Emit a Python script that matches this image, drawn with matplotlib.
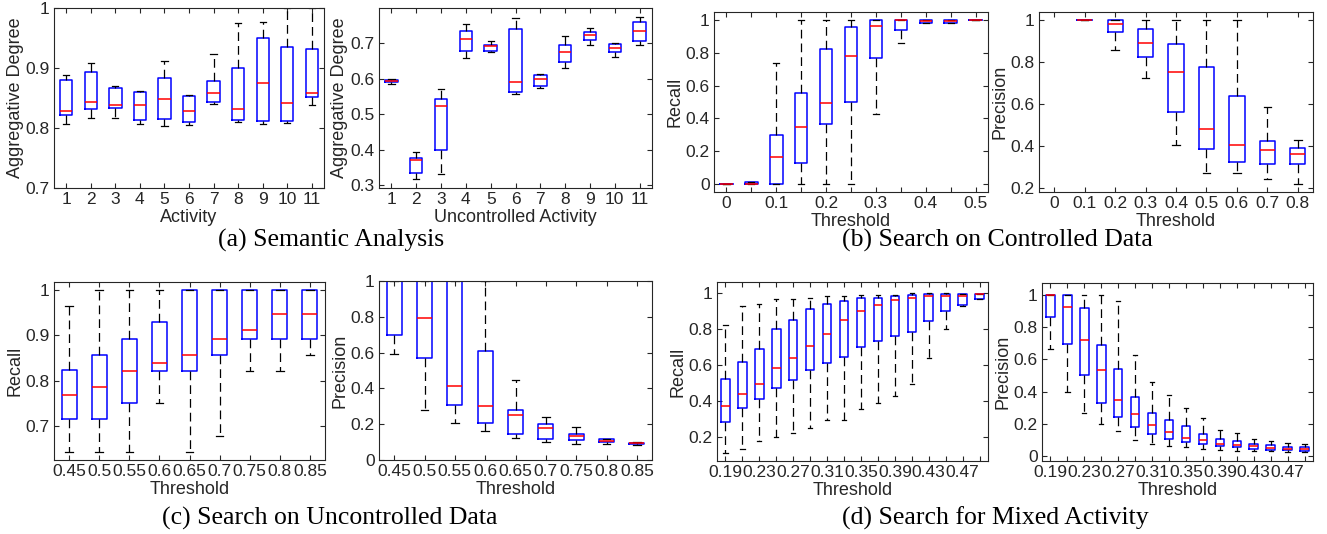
import matplotlib
matplotlib.use('Agg')
import matplotlib.pyplot as plt
from matplotlib.ticker import FuncFormatter

# ---------------- (a) Semantic Analysis ----------------
act_labels = ['1', '2', '3', '4', '5', '6', '7', '8', '9', '10', '11']
sem_lo  = [0.807, 0.816, 0.816, 0.806, 0.803, 0.805, 0.840, 0.810, 0.807, 0.808, 0.838]
sem_q1  = [0.822, 0.831, 0.833, 0.814, 0.815, 0.810, 0.843, 0.813, 0.812, 0.811, 0.852]
sem_med = [0.829, 0.843, 0.839, 0.838, 0.849, 0.829, 0.858, 0.831, 0.875, 0.841, 0.858]
sem_q3  = [0.880, 0.893, 0.866, 0.860, 0.883, 0.854, 0.878, 0.900, 0.950, 0.935, 0.932]
sem_hi  = [0.889, 0.908, 0.870, 0.861, 0.912, 0.855, 0.923, 0.975, 0.977, 1.000, 1.000]

unc_lo  = [0.584, 0.318, 0.332, 0.657, 0.674, 0.557, 0.573, 0.630, 0.693, 0.661, 0.694]
unc_q1  = [0.589, 0.335, 0.399, 0.676, 0.677, 0.561, 0.579, 0.647, 0.708, 0.674, 0.706]
unc_med = [0.594, 0.371, 0.522, 0.711, 0.692, 0.591, 0.600, 0.675, 0.722, 0.687, 0.733]
unc_q3  = [0.597, 0.376, 0.543, 0.733, 0.694, 0.739, 0.610, 0.693, 0.731, 0.696, 0.760]
unc_hi  = [0.598, 0.394, 0.571, 0.752, 0.704, 0.769, 0.612, 0.719, 0.741, 0.700, 0.773]

# ---------------- (b) Search on Controlled Data ----------------
ctrl_rec_labels = ['0', '', '0.1', '', '0.2', '', '0.3', '', '0.4', '', '0.5']
ctrl_rec_lo  = [0.0, 0.0, 0.0,   0.0,   0.0,   0.0,   0.427, 0.861, 0.985, 0.982, 1.0]
ctrl_rec_q1  = [0.0, 0.0, 0.0,   0.129, 0.367, 0.502, 0.769, 0.943, 0.986, 0.986, 1.0]
ctrl_rec_med = [0.0, 0.0, 0.165, 0.349, 0.496, 0.784, 0.963, 1.0,   0.995, 0.995, 1.0]
ctrl_rec_q3  = [0.0, 0.01, 0.30, 0.557, 0.824, 0.959, 1.0,   1.0,   1.0,   1.0,   1.0]
ctrl_rec_hi  = [0.0, 0.01, 0.74, 1.0,   1.0,   1.0,   1.0,   1.0,   1.0,   1.0,   1.0]

ctrl_pre_labels = ['0', '0.1', '0.2', '0.3', '0.4', '0.5', '0.6', '0.7', '0.8']
ctrl_pre_lo  = [None, 1.0, 0.860, 0.725, 0.405, 0.270, 0.273, 0.243, 0.221]
ctrl_pre_q1  = [None, 1.0, 0.943, 0.825, 0.564, 0.388, 0.325, 0.316, 0.313]
ctrl_pre_med = [None, 1.0, 0.983, 0.890, 0.753, 0.483, 0.406, 0.381, 0.362]
ctrl_pre_q3  = [None, 1.0, 1.0,   0.960, 0.885, 0.776, 0.640, 0.424, 0.393]
ctrl_pre_hi  = [None, 1.0, 1.0,   1.0,   1.0,   1.0,   1.0,   0.585, 0.429]

# ---------------- (c) Search on Uncontrolled Data ----------------
unc_thr_labels = ['0.45', '0.5', '0.55', '0.6', '0.65', '0.7', '0.75', '0.8', '0.85']
uc_rec_lo  = [0.643, 0.643, 0.643, 0.750, 0.643, 0.679, 0.822, 0.822, 0.857]
uc_rec_q1  = [0.715, 0.715, 0.750, 0.822, 0.822, 0.857, 0.893, 0.893, 0.893]
uc_rec_med = [0.768, 0.786, 0.822, 0.840, 0.857, 0.893, 0.911, 0.947, 0.947]
uc_rec_q3  = [0.823, 0.857, 0.893, 0.929, 1.0,   1.0,   1.0,   1.0,   1.0]
uc_rec_hi  = [0.966, 1.0,   1.0,   1.0,   1.0,   1.0,   1.0,   1.0,   1.0]

uc_pre_lo  = [0.594, 0.280, 0.207, 0.163, 0.121, 0.099, 0.090, 0.088, 0.084]
uc_pre_q1  = [0.701, 0.570, 0.310, 0.209, 0.146, 0.120, 0.110, 0.099, 0.089]
uc_pre_med = [1.0,   0.794, 0.411, 0.301, 0.249, 0.178, 0.135, 0.108, 0.093]
uc_pre_q3  = [1.0,   1.0,   1.0,   0.607, 0.279, 0.200, 0.144, 0.117, 0.097]
uc_pre_hi  = [1.0,   1.0,   1.0,   1.0,   0.447, 0.239, 0.183, 0.120, 0.098]

# ---------------- (d) Search for Mixed Activity ----------------
mix_labels = ['0.19', '', '0.23', '', '0.27', '', '0.31', '', '0.35', '', '0.39', '', '0.43', '', '0.47', '']
mix_rec_lo  = [0.111, 0.131, 0.178, 0.200, 0.224, 0.248, 0.294, 0.294, 0.352, 0.387, 0.426, 0.493, 0.638, 0.800, 0.924, 0.963]
mix_rec_q1  = [0.284, 0.361, 0.409, 0.469, 0.517, 0.571, 0.610, 0.642, 0.701, 0.729, 0.759, 0.783, 0.842, 0.900, 0.933, 0.963]
mix_rec_med = [0.371, 0.436, 0.493, 0.580, 0.638, 0.705, 0.772, 0.848, 0.896, 0.933, 0.961, 0.972, 0.983, 0.983, 0.983, 0.991]
mix_rec_q3  = [0.521, 0.616, 0.688, 0.798, 0.848, 0.909, 0.937, 0.952, 0.970, 0.970, 0.981, 0.987, 0.991, 0.991, 0.991, 0.993]
mix_rec_hi  = [0.822, 0.926, 0.935, 0.963, 0.963, 0.972, 0.983, 0.983, 0.989, 0.989, 0.989, 0.998, 0.998, 0.998, 0.994, 0.994]

mix_pre_lo  = [0.666, 0.398, 0.268, 0.202, 0.153, 0.099, 0.076, 0.062, 0.054, 0.045, 0.037, 0.035, 0.031, 0.031, 0.027, 0.027]
mix_pre_q1  = [0.862, 0.693, 0.503, 0.330, 0.241, 0.179, 0.136, 0.109, 0.089, 0.074, 0.062, 0.056, 0.047, 0.041, 0.037, 0.035]
mix_pre_med = [1.0,   0.922, 0.718, 0.532, 0.348, 0.258, 0.190, 0.148, 0.115, 0.097, 0.076, 0.066, 0.062, 0.052, 0.047, 0.043]
mix_pre_q3  = [1.0,   1.0,   0.918, 0.687, 0.538, 0.369, 0.268, 0.221, 0.184, 0.138, 0.109, 0.091, 0.078, 0.068, 0.058, 0.054]
mix_pre_hi  = [1.0,   1.0,   1.0,   1.0,   0.961, 0.627, 0.458, 0.377, 0.301, 0.235, 0.159, 0.144, 0.105, 0.091, 0.082, 0.078]

TXT = '#262626'
plt.rcParams['font.family'] = ['Liberation Sans', 'DejaVu Sans']
plt.rcParams['font.size'] = 13

W, H = 1327, 534
fig = plt.figure(figsize=(W / 100, H / 100), dpi=100)


def make_ax(l, r, t, b):
    return fig.add_axes([l / W, 1 - b / H, (r - l) / W, (b - t) / H])


def draw(ax, lo, q1, med, q3, hi, labels, ylim, yticks, xlabel, ylabel):
    stats, pos = [], []
    for i in range(len(lo)):
        if lo[i] is None:
            continue
        stats.append(dict(whislo=lo[i], q1=q1[i], med=med[i], q3=q3[i], whishi=hi[i], fliers=[]))
        pos.append(i + 1)
    ax.bxp(stats, positions=pos, widths=0.5, capwidths=0.25, showfliers=False,
           boxprops=dict(color='#0000ff', linewidth=1.1),
           medianprops=dict(color='#ff0000', linewidth=1.1),
           whiskerprops=dict(color='black', linewidth=0.9, linestyle=(0, (7, 4))),
           capprops=dict(color='black', linewidth=0.9))
    n = len(lo)
    ax.set_xlim(0.5, n + 0.5)
    ax.set_xticks(range(1, n + 1))
    ax.set_xticklabels(labels)
    ax.set_ylim(*ylim)
    ax.set_yticks(yticks)
    ax.yaxis.set_major_formatter(FuncFormatter(lambda v, p: f'{v:g}'))
    ax.tick_params(direction='in', top=True, right=True, length=3.5, width=0.8,
                   colors=TXT, labelcolor=TXT, pad=3, labelsize=12.5)
    for s in ax.spines.values():
        s.set_color(TXT)
        s.set_linewidth(0.8)
    ax.set_xlabel(xlabel, color=TXT, labelpad=1)
    ax.set_ylabel(ylabel, color=TXT, labelpad=1.5)


ax1 = make_ax(54, 324, 8, 188)
draw(ax1, sem_lo, sem_q1, sem_med, sem_q3, sem_hi, act_labels, (0.7, 1.0),
     [0.7, 0.8, 0.9, 1.0], 'Activity', 'Aggregative Degree')

ax2 = make_ax(379, 652, 8, 188)
draw(ax2, unc_lo, unc_q1, unc_med, unc_q3, unc_hi, act_labels, (0.2925, 0.798),
     [0.3, 0.4, 0.5, 0.6, 0.7], 'Uncontrolled Activity', 'Aggregative Degree')

ax3 = make_ax(714, 988, 12, 192)
draw(ax3, ctrl_rec_lo, ctrl_rec_q1, ctrl_rec_med, ctrl_rec_q3, ctrl_rec_hi, ctrl_rec_labels,
     (-0.051, 1.051), [0, 0.2, 0.4, 0.6, 0.8, 1.0], 'Threshold', 'Recall')

ax4 = make_ax(1039, 1313, 12, 192)
draw(ax4, ctrl_pre_lo, ctrl_pre_q1, ctrl_pre_med, ctrl_pre_q3, ctrl_pre_hi, ctrl_pre_labels,
     (0.181, 1.04), [0.2, 0.4, 0.6, 0.8, 1.0], 'Threshold', 'Precision')

ax5 = make_ax(54, 325, 282, 460)
draw(ax5, uc_rec_lo, uc_rec_q1, uc_rec_med, uc_rec_q3, uc_rec_hi, unc_thr_labels,
     (0.625, 1.018), [0.7, 0.8, 0.9, 1.0], 'Threshold', 'Recall')

ax6 = make_ax(379, 652, 281, 460)
draw(ax6, uc_pre_lo, uc_pre_q1, uc_pre_med, uc_pre_q3, uc_pre_hi, unc_thr_labels,
     (0.0, 1.0), [0, 0.2, 0.4, 0.6, 0.8, 1.0], 'Threshold', 'Precision')

ax7 = make_ax(717, 988, 282, 461)
draw(ax7, mix_rec_lo, mix_rec_q1, mix_rec_med, mix_rec_q3, mix_rec_hi, mix_labels,
     (0.066, 1.059), [0.2, 0.4, 0.6, 0.8, 1.0], 'Threshold', 'Recall')

ax8 = make_ax(1042, 1313, 283, 461)
draw(ax8, mix_pre_lo, mix_pre_q1, mix_pre_med, mix_pre_q3, mix_pre_hi, mix_labels,
     (-0.03, 1.072), [0, 0.2, 0.4, 0.6, 0.8, 1.0], 'Threshold', 'Precision')

cap_kw = dict(ha='center', va='center', fontsize=18.5, family=['Liberation Serif', 'DejaVu Serif'], color='black')
fig.text(331 / W, 1 - 240 / H, '(a) Semantic Analysis', **cap_kw)
fig.text(997 / W, 1 - 240 / H, '(b) Search on Controlled Data', **cap_kw)
fig.text(330 / W, 1 - 518 / H, '(c) Search on Uncontrolled Data', **cap_kw)
fig.text(995 / W, 1 - 518 / H, '(d) Search for Mixed Activity', **cap_kw)

fig.savefig('out.png', dpi=100)
